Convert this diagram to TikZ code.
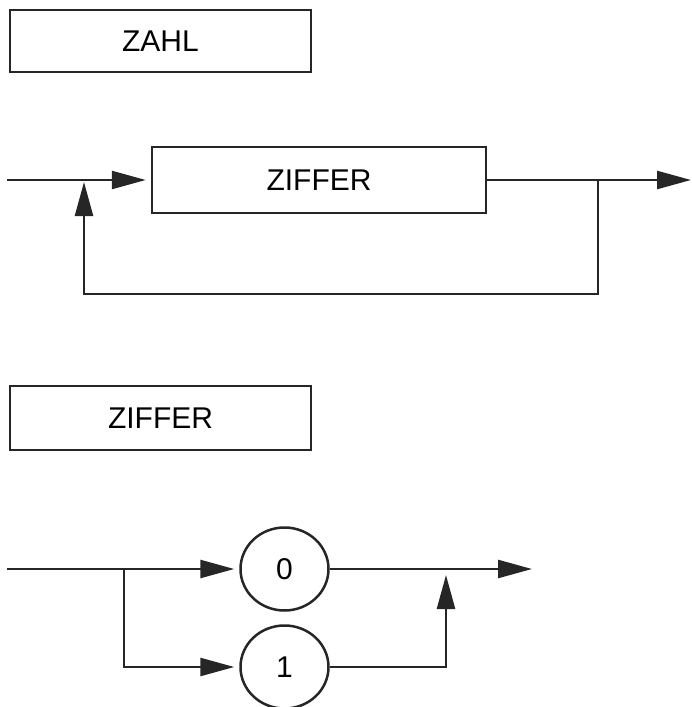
\documentclass[tikz,border=0pt]{standalone}
\usepackage{fontspec}
\setmainfont{Liberation Sans}
\usetikzlibrary{arrows.meta,shapes.geometric}
\begin{document}
\begin{tikzpicture}[x=1pt,y=-1pt,
  lw/.style={line width=2.5pt, draw=black!85},
  boxnode/.style={lw, rectangle, inner sep=0pt, font=\fontsize{30}{36}\selectfont},
  term/.style={lw, ellipse, inner sep=0pt, minimum width=88pt, minimum height=83pt, font=\fontsize{30}{36}\selectfont},
  conn/.style={lw, line join=miter},
  arr/.style={conn, -{Triangle[length=34pt,width=18pt]}}
]
\useasboundingbox (0,0) rectangle (691,707);

% --- ZAHL ---
\node[boxnode, minimum width=301pt, minimum height=62pt] (zahl) at (160.5,41) {ZAHL};
\node[boxnode, minimum width=334pt, minimum height=66pt] (ziffer1) at (319,180) {ZIFFER};
\coordinate (in1) at (7,180);
\coordinate (out1) at (691,180);
\coordinate (split1) at (598,180);
\coordinate (loopR) at (598,294);
\coordinate (loopL) at (84,294);
\coordinate (join1) at (84,182);

\draw[arr, shorten >=5pt] (in1) -- (ziffer1.west);
\draw[arr] (ziffer1.east) -- (out1);
\draw[arr] (split1) -- (loopR) -- (loopL) -- (join1);

% --- ZIFFER ---
\node[boxnode, minimum width=301pt, minimum height=64pt] (ziffer2) at (160.5,418) {ZIFFER};
\node[term] (zero) at (284.5,569) {0};
\node[term] (one) at (284.5,667) {1};
\coordinate (in2) at (7,569);
\coordinate (split2) at (124,569);
\coordinate (down2) at (124,667);
\coordinate (out2) at (532,569);
\coordinate (corner2) at (446,667);
\coordinate (join2) at (446,575);

\draw[arr, shorten >=5pt] (in2) -- (zero.west);
\draw[arr, shorten >=5pt] (split2) -- (down2) -- (one.west);
\draw[arr] (zero.east) -- (out2);
\draw[arr] (one.east) -- (corner2) -- (join2);
\end{tikzpicture}
\end{document}
